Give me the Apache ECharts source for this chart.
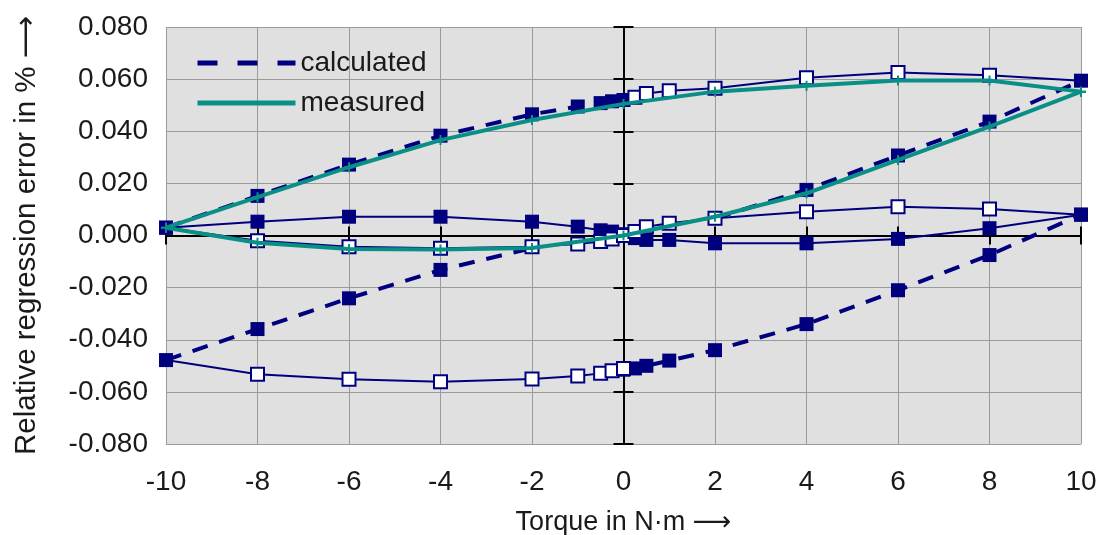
<!DOCTYPE html>
<html>
<head>
<meta charset="utf-8">
<script src="https://cdn.jsdelivr.net/npm/echarts@6/dist/echarts.min.js"></script>
<style>html,body{margin:0;padding:0;background:#fff}#c{width:1099px;height:535px}</style>
</head>
<body>
<div id="c"></div>
<script>
// ---- data (torque in N·m, relative regression error in %) ----
const torqueNeg = [-10, -8, -6, -4, -2, -1, -0.5, -0.25, 0];
const torquePos = [0, 0.25, 0.5, 1, 2, 4, 6, 8, 10];
const torqueFull = [-10, -8, -6, -4, -2, -1, -0.5, -0.25, 0, 0.25, 0.5, 1, 2, 4, 6, 8, 10];
const torqueLeft = [-10, -8, -6, -4, -2];
const torqueRight = [2, 4, 6, 8, 10];
const torqueEven = [-10, -8, -6, -4, -2, 0, 2, 4, 6, 8, 10];

// calculated (dashed, filled squares)
const calcUpperLeft = [0.003, 0.0152, 0.0272, 0.0383, 0.0465, 0.0495, 0.0508, 0.0515, 0.052];
const calcMidLeft = [-0.0478, -0.0359, -0.0241, -0.0132, -0.0048];
const calcMidRight = [0.0066, 0.0175, 0.0307, 0.0437, 0.0594];
const calcLowerRight = [-0.0515, -0.051, -0.050, -0.048, -0.044, -0.034, -0.021, -0.0075, 0.008];

// thin solid lines
const thinFilled = [0.003, 0.0053, 0.0072, 0.0072, 0.0053, 0.0034, 0.002, 0.0015, 0.0005, -0.001, -0.0017, -0.0017, -0.003, -0.003, -0.0013, 0.0028, 0.008];
const thinOpenMid = [0.003, -0.002, -0.0043, -0.0049, -0.0043, -0.0033, -0.0023, -0.0013, 0.0, 0.0015, 0.0034, 0.0047, 0.0066, 0.0091, 0.011, 0.0102, 0.008];
const thinOpenTop = [0.052, 0.053, 0.0545, 0.0555, 0.0565, 0.0605, 0.0625, 0.0615, 0.0594];
const thinOpenBottom = [-0.0478, -0.0532, -0.0552, -0.0561, -0.0551, -0.0539, -0.0529, -0.0519, -0.051];

// measured (teal loop)
const measUpper = [0.003, 0.0147, 0.0262, 0.0366, 0.0443, 0.0505, 0.0552, 0.0575, 0.0595, 0.0595, 0.0552];
const measLower = [0.003, -0.0028, -0.0052, -0.0054, -0.0048, 0.0, 0.0072, 0.0162, 0.029, 0.0418, 0.0552];

const xTickLabels = ['-10', '-8', '-6', '-4', '-2', '0', '2', '4', '6', '8', '10'];
const legendNames = ['calculated', 'measured'];

// ---- styles ----
const NAVY = '#00007f';
const TEAL = '#0a8f86';
const FONT = "'Liberation Sans', Arial, 'DejaVu Sans', sans-serif";
const TXT = '#1a1a1a';

const pairs = (xs, ys) => xs.map((x, i) => [x, ys[i]]);
function hide(data, idxs) {
  const n = data.length;
  const set = idxs.map(i => (i < 0 ? n + i : i));
  return data.map((d, i) => set.includes(i) ? { value: d, symbol: 'none' } : d);
}

function dashedFilled(data) {
  return { type: 'line', name: legendNames[0], data, symbol: 'rect', symbolSize: 14,
    lineStyle: { color: NAVY, width: 4, type: [16, 12] }, itemStyle: { color: NAVY }, z: 3 };
}
function thinFilledS(name, data) {
  return { type: 'line', name, data, symbol: 'rect', symbolSize: 14,
    lineStyle: { color: NAVY, width: 2 }, itemStyle: { color: NAVY }, z: 3 };
}
function thinOpenS(name, data) {
  return { type: 'line', name, data, symbol: 'rect', symbolSize: 13,
    lineStyle: { color: NAVY, width: 2 }, itemStyle: { color: '#ffffff', borderColor: NAVY, borderWidth: 2 }, z: 4 };
}

const measData = pairs(torqueEven, measUpper).concat(pairs(torqueEven, measLower).reverse());

const baseX = { type: 'value', min: -10, max: 10, interval: 2, position: 'bottom' };
const baseY = { type: 'value', min: -0.08, max: 0.08, interval: 0.02, position: 'left' };

const option = {
  animation: false,
  backgroundColor: '#ffffff',
  grid: { left: 166, right: 18, top: 27, bottom: 91, show: true, backgroundColor: '#e0e0e0', borderWidth: 0,
    outerBoundsMode: 'none', containLabel: false },
  legend: {
    orient: 'vertical', left: 190, top: 44, itemWidth: 98, itemHeight: 14, itemGap: 12,
    textStyle: { fontFamily: FONT, fontSize: 28, color: TXT, lineHeight: 28 },
    data: [
      { name: legendNames[0], itemStyle: { opacity: 0 }, lineStyle: { width: 5, type: [20, 20] } },
      { name: legendNames[1], itemStyle: { opacity: 0 }, lineStyle: { width: 5 } }
    ],
    selectedMode: false
  },
  xAxis: [
    Object.assign({}, baseX, {
      axisLine: { show: false, onZero: false }, axisTick: { show: false },
      splitLine: { show: true, lineStyle: { color: '#9a9a9a', width: 1 } },
      axisLabel: { fontFamily: FONT, fontSize: 28, color: TXT, margin: 24,
        formatter: v => xTickLabels[Math.round((v + 10) / 2)] },
      name: 'Torque in N·m ⟶', nameLocation: 'middle', nameGap: 65,
      nameTextStyle: { fontFamily: FONT, fontSize: 27, color: TXT }
    }),
    Object.assign({}, baseX, {
      axisLine: { show: true, onZero: true, onZeroAxisIndex: 0, lineStyle: { color: '#000', width: 2 } },
      axisTick: { show: true, inside: false, length: 9, lineStyle: { color: '#000', width: 2 } },
      splitLine: { show: false }, axisLabel: { show: false }
    }),
    Object.assign({}, baseX, {
      axisLine: { show: false, onZero: true, onZeroAxisIndex: 0 },
      axisTick: { show: true, inside: true, length: 9, lineStyle: { color: '#000', width: 2 } },
      splitLine: { show: false }, axisLabel: { show: false }
    })
  ],
  yAxis: [
    Object.assign({}, baseY, {
      axisLine: { show: false, onZero: false }, axisTick: { show: false },
      splitLine: { show: true, lineStyle: { color: '#9a9a9a', width: 1 } },
      axisLabel: { fontFamily: FONT, fontSize: 28, color: TXT, margin: 18, formatter: v => v.toFixed(3) },
      name: 'Relative regression error in % ⟶', nameLocation: 'middle', nameGap: 124,
      nameTextStyle: { fontFamily: FONT, fontSize: 29.5, color: TXT }
    }),
    Object.assign({}, baseY, {
      axisLine: { show: true, onZero: true, onZeroAxisIndex: 0, lineStyle: { color: '#000', width: 2 } },
      axisTick: { show: true, inside: false, length: 10, lineStyle: { color: '#000', width: 2 } },
      splitLine: { show: false }, axisLabel: { show: false }
    }),
    Object.assign({}, baseY, {
      axisLine: { show: false, onZero: true, onZeroAxisIndex: 0 },
      axisTick: { show: true, inside: true, length: 10, lineStyle: { color: '#000', width: 2 } },
      splitLine: { show: false }, axisLabel: { show: false }
    })
  ],
  series: [
    thinFilledS('thin filled', pairs(torqueFull, thinFilled)),
    dashedFilled(pairs(torqueNeg, calcUpperLeft)),
    dashedFilled(hide(pairs(torqueLeft, calcMidLeft), [-1])),
    dashedFilled(hide(pairs(torqueRight, calcMidRight), [0])),
    dashedFilled(pairs(torquePos, calcLowerRight)),
    thinOpenS('thin open mid', hide(pairs(torqueFull, thinOpenMid), [0, -1])),
    thinOpenS('thin open top', hide(pairs(torquePos, thinOpenTop), [0, -1])),
    thinOpenS('thin open bottom', hide(pairs(torqueNeg, thinOpenBottom), [0])),
    { type: 'line', name: legendNames[1], data: measData,
      symbol: 'path://M4,0H6V10H4Z M0,4H10V6H0Z', symbolSize: 10,
      lineStyle: { color: TEAL, width: 4 }, itemStyle: { color: TEAL }, z: 5 }
  ]
};

const chart = echarts.init(document.getElementById('c'), null, { renderer: 'canvas' });
chart.setOption(option);
</script>
</body>
</html>
